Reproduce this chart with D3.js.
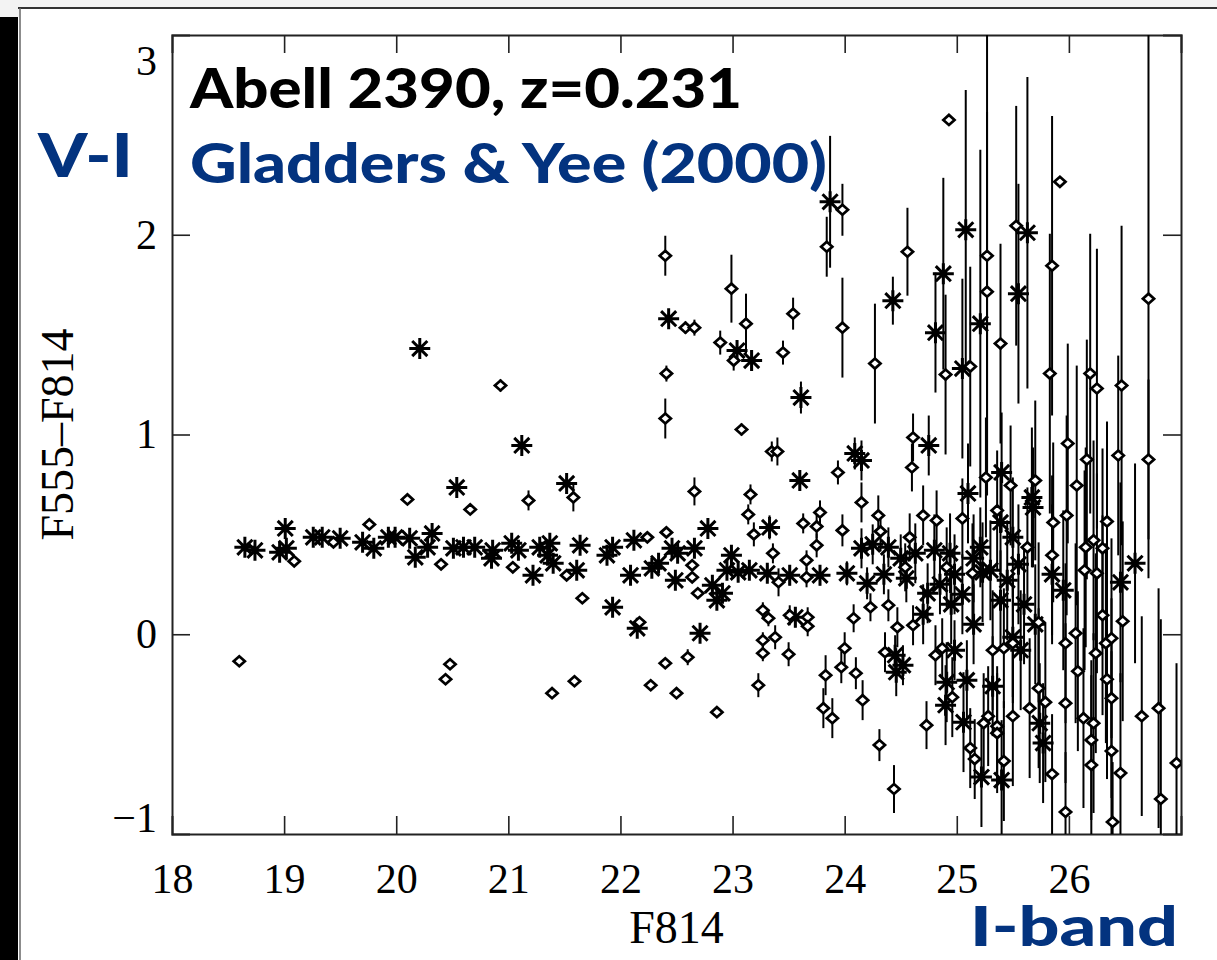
<!DOCTYPE html>
<html><head><meta charset="utf-8">
<script src="https://cdn.jsdelivr.net/npm/d3@7"></script>
<style>body{margin:0;background:#fff}</style>
</head><body><svg id="c" width="1217" height="960"></svg>
<script>
// ---------- data ----------
const xTickValues = [18,19,20,21,22,23,24,25,26];
const xTickLabels = ["18","19","20","21","22","23","24","25","26"];
const yTickValues = [-1,0,1,2,3];
const yTickLabels = ["\u22121","0","1","2","3"];
const xTitle = "F814";
const yTitle = "F555\u2013F814";

// asterisk points: [F814, F555-F814, error]
const asteriskPoints = [
[18.65,0.435,0],[18.74,0.42,0],[19.01,0.53,0],[18.96,0.41,0],[19.02,0.43,0],[19.26,0.485,0],[19.34,0.485,0],
[19.5,0.48,0],[19.70,0.46,0],[19.80,0.43,0],[19.93,0.485,0],[19.99,0.485,0],[20.12,0.48,0],[20.17,0.385,0],
[20.32,0.505,0],[20.28,0.435,0],[20.51,0.43,0],[20.6,0.435,0],[20.7,0.435,0],[20.86,0.42,0],[20.85,0.38,0],
[21.03,0.455,0],[21.09,0.42,0],[21.22,0.295,0],[21.28,0.435,0],[21.37,0.455,0],[21.40,0.355,0],[21.35,0.395,0],
[20.21,1.43,0],[21.12,0.945,0],[20.54,0.735,0],[21.52,0.755,0.03],
[22.43,1.58,0.03],[23.04,1.42,0.05],[23.17,1.37,0.05],[23.61,1.185,0.08],[23.6,0.77,0.05],[23.33,0.535,0.06],
[22.78,0.53,0.03],[21.64,0.445,0],[21.93,0.435,0],[22.12,0.47,0],[21.88,0.395,0],[21.61,0.32,0],[22.09,0.295,0],
[22.28,0.33,0],[22.34,0.355,0],[22.46,0.43,0],[22.51,0.405,0],[22.66,0.43,0],[22.49,0.27,0],[22.82,0.245,0.03],
[22.91,0.205,0],[22.99,0.395,0.03],[22.95,0.32,0],[23.05,0.31,0],[23.15,0.32,0],[23.31,0.305,0.04],[23.51,0.295,0.05],
[21.93,0.135,0],[22.15,0.03,0],[22.71,0.005,0],[23.56,0.085,0.05],[22.86,0.17,0],
[23.87,2.165,0.33],[25.08,2.025,0.7],[24.88,1.805,0.48],[25.63,2.01,0.78],[25.55,1.705,0.55],[24.43,1.67,0.12],
[24.81,1.51,0.3],[25.21,1.555,0.87],[25.05,1.33,0.45],
[24.09,0.905,0.08],[24.15,0.87,0.1],[24.75,0.945,0.15],[25.10,0.705,0.25],[25.40,0.81,0.3],[25.67,0.685,0.35],
[24.15,0.43,0.1],[24.39,0.435,0.1],[23.78,0.295,0.05],[24.02,0.305,0.06],[24.20,0.255,0.08],[24.63,0.405,0.15],
[24.74,0.205,0.15],[24.94,0.405,0.2],[25.21,0.435,0.2],[25.39,0.56,0.25],[25.50,0.485,0.3],[25.68,0.635,0.3],
[25.95,0.22,0.4],[25.45,0.27,0.3],[25.23,0.31,0.25],[26.59,0.355,0.5],[26.46,0.26,0.5],
[24.45,-0.105,0.1],[24.52,-0.155,0.1],[24.46,-0.19,0.12],[24.91,-0.24,0.2],[24.90,-0.355,0.2],[24.98,-0.08,0.15],
[25.06,-0.44,0.25],[25.09,-0.23,0.2],[25.22,-0.715,0.25],[25.32,-0.26,0.25],[25.40,-0.73,0.3],[25.57,-0.08,0.3],
[25.74,-0.445,0.3],[25.77,-0.545,0.3],
[24.35,0.3,0.1],[24.55,0.28,0.12],[24.85,0.25,0.15],[24.98,0.3,0.2],[25.39,0.17,0.25],[25.6,0.15,0.3],
[25.85,0.3,0.35],[25.7,0.05,0.3],[25.5,-0.015,0.3],[24.7,0.1,0.15],[25.15,0.05,0.2],[25.05,0.2,0.2],
[24.25,0.45,0.1],[24.5,0.38,0.12],[24.8,0.42,0.18],[25.15,0.38,0.22],[25.3,0.32,0.25],[25.55,0.35,0.3],[24.95,0.15,0.2]
];

// diamond points: [F814, F555-F814, error]
const diamondPoints = [
[18.6,-0.135,0],[19.09,0.365,0.01],[19.44,0.46,0],[19.76,0.55,0],[20.10,0.675,0.01],[20.66,0.625,0],[20.40,0.35,0],
[21.04,0.335,0],[21.18,0.67,0.05],[21.52,0.295,0],[20.48,-0.15,0],[20.44,-0.225,0],[20.93,1.245,0.03],[21.58,0.685,0.07],
[22.58,1.535,0.03],[22.66,1.535,0.04],[22.41,1.305,0.04],[22.40,1.08,0.1],[22.89,1.46,0.06],[23.01,1.37,0.05],
[23.12,1.555,0.15],[23.08,1.025,0.03],[23.45,1.41,0.06],[23.54,1.605,0.08],[23.35,0.915,0.05],[23.40,0.915,0.07],
[22.66,0.715,0.07],[23.16,0.70,0.05],[23.14,0.60,0.05],[23.19,0.50,0.06],[22.41,0.51,0],[22.24,0.485,0],
[22.64,0.345,0],[22.64,0.285,0],[22.69,0.205,0],[23.36,0.405,0.05],[23.41,0.26,0.07],[21.66,0.18,0],[22.17,0.06,0],
[22.86,-0.39,0],[22.50,-0.295,0],[22.27,-0.255,0],[22.40,-0.145,0],[22.60,-0.115,0.04],[21.59,-0.235,0],[21.39,-0.295,0],
[23.27,0.12,0.04],[23.32,0.08,0.04],[23.38,-0.015,0.06],[23.27,-0.03,0.04],[23.27,-0.095,0.04],[23.50,-0.1,0.06],
[23.23,-0.255,0.06],[23.51,0.095,0.05],[22.40,1.895,0.1],[22.99,1.73,0.17],
[23.67,0.085,0.05],[23.67,0.04,0.05],[24.08,0.08,0.07],[24.23,0.135,0.07],[24.39,0.145,0.08],[24.0,-0.07,0.08],
[23.97,-0.165,0.08],[23.83,-0.205,0.1],[24.10,-0.195,0.08],[23.81,-0.37,0.1],[23.89,-0.42,0.1],[24.16,-0.33,0.1],
[24.31,-0.555,0.08],[24.44,-0.775,0.12],[24.36,-0.09,0.1],[24.47,0.035,0.1],[24.61,0.045,0.1],[24.73,-0.455,0.12],
[24.81,-0.105,0.15],[24.87,-0.07,0.15],[24.96,-0.315,0.2],[25.12,-0.57,0.2],[25.16,-0.625,0.2],[25.24,-0.445,0.25],
[25.28,-0.41,0.25],[25.36,-0.46,0.3],[25.36,-0.495,0.3],[25.42,-0.635,0.3],[25.32,-0.08,0.3],[25.42,-0.07,0.3],
[25.50,-0.41,0.35],[25.50,-0.045,0.3],[25.65,-0.37,0.35],[25.79,-0.34,0.4],[25.73,-0.27,0.4],[25.85,-0.70,0.3],
[25.97,-0.345,0.4],[25.97,-0.89,0.3],[25.97,-0.045,0.4],[26.06,0.005,0.45],[26.08,-0.185,0.4],[26.13,-0.42,0.45],
[26.20,-0.655,0.45],[26.22,-0.445,0.45],[26.20,-0.53,0.4],[26.24,-0.095,0.5],[26.33,-0.045,0.5],[26.34,-0.225,0.5],
[26.38,-0.32,0.5],[26.38,-0.585,0.5],[26.39,-0.94,0.3],[26.46,-0.695,0.5],[26.48,0.065,0.5],[26.65,-0.41,0.5],
[26.80,-0.37,0.6],[26.82,-0.825,0.9],[26.96,-0.645,0.5],[26.30,0.095,0.5],[26.38,-0.02,0.5],[25.73,0.06,0.4],
[23.98,2.125,0.13],[23.84,1.94,0.15],[24.93,2.575,0],[25.27,1.895,1.2],[25.27,1.715,0.9],[24.56,1.915,0.22],
[25.53,2.045,0.6],[25.92,2.265,0],[25.85,1.845,0.75],[26.71,1.68,1.4],[23.98,1.535,0.25],[24.27,1.355,0.3],
[24.9,1.30,0.4],[25.39,1.455,0.5],[25.12,1.34,0.5],[25.83,1.305,0.7],[26.19,1.305,0.7],[26.25,1.23,0.7],
[26.47,1.245,0.8],[26.71,0.875,0.4],[25.99,0.955,0.5],[26.16,0.875,0.6],[26.44,0.895,0.5],[26.07,0.745,0.6],
[25.98,0.595,0.5],[26.34,0.565,0.5],[26.15,0.435,0.5],[26.14,0.32,0.5],[26.22,0.47,0.5],[26.25,0.305,0.5],
[26.30,0.43,0.5],[23.94,0.81,0.06],[24.61,0.985,0.12],[24.60,0.835,0.12],[24.15,0.66,0.1],[25.26,0.785,0.3],
[25.48,0.745,0.3],[25.70,0.77,0.4],[23.78,0.61,0.06],[23.75,0.54,0.06],[23.75,0.445,0.06],[23.63,0.555,0.05],
[24.30,0.595,0.1],[24.32,0.515,0.1],[23.98,0.52,0.08],[23.66,0.37,0.05],[23.66,0.285,0.05],[24.58,0.485,0.12],
[24.70,0.595,0.15],[24.82,0.57,0.15],[24.54,0.335,0.12],[25.05,0.58,0.2],[24.91,0.335,0.2],[25.14,0.305,0.25],
[25.36,0.62,0.3],[25.63,0.435,0.3],[25.86,0.56,0.4],[25.85,0.395,0.4]
];

// ---------- layout ----------
const W = 1217, H = 960;
const L = 172, R = 1181, T = 35, B = 834;
const svg = d3.select("#c");

// page frame decoration
svg.append("rect").attr("x",0).attr("y",0).attr("width",W).attr("height",8).attr("fill","#f3f3f3");
svg.append("rect").attr("x",0).attr("y",0).attr("width",19).attr("height",17).attr("fill","#f3f3f3");
svg.append("line").attr("x1",18).attr("x2",W).attr("y1",8).attr("y2",8).attr("stroke","#333").attr("stroke-width",2);
svg.append("line").attr("x1",20).attr("x2",20).attr("y1",8).attr("y2",H).attr("stroke","#666").attr("stroke-width",1.5);
svg.append("rect").attr("x",0).attr("y",17).attr("width",18).attr("height",H-17).attr("fill","#000");

const x = d3.scaleLinear().domain([18,27]).range([L,R]);
const y = d3.scaleLinear().domain([-1,3]).range([B,T]);

svg.append("defs").append("clipPath").attr("id","clip")
  .append("rect").attr("x",L).attr("y",T).attr("width",R-L).attr("height",B-T);

// axes
const serif = "'Liberation Serif','Times New Roman',serif";
const tickLen = 18;
const gB = svg.append("g").attr("transform",`translate(0,${B})`)
  .call(d3.axisBottom(x).tickValues(xTickValues).tickFormat((d,i)=>xTickLabels[i]).tickSize(-tickLen).tickPadding(29));
const gT = svg.append("g").attr("transform",`translate(0,${T})`)
  .call(d3.axisTop(x).tickValues(xTickValues.slice(1)).tickFormat("").tickSize(-tickLen));
const gL = svg.append("g").attr("transform",`translate(${L},0)`)
  .call(d3.axisLeft(y).tickValues(yTickValues).tickFormat((d,i)=>yTickLabels[i]).tickSize(-tickLen).tickPadding(15));
const gR = svg.append("g").attr("transform",`translate(${R},0)`)
  .call(d3.axisRight(y).tickValues(yTickValues.slice(1,4)).tickFormat("").tickSize(-tickLen));
[gB,gT,gL,gR].forEach(g=>{
  g.select(".domain").attr("stroke","#222").attr("stroke-width",2);
  g.selectAll(".tick line").attr("stroke","#222").attr("stroke-width",1.6);
  g.selectAll(".tick text").attr("font-family",serif).attr("font-size",42).attr("fill","#000");
});
gL.selectAll(".tick text").attr("dy",(d)=> d===3 ? "0.95em" : d===-1 ? "-0.05em" : "0.32em");
gL.selectAll(".tick line").filter(d=>d===3||d===-1).remove();
gB.selectAll(".tick line").filter(d=>d===18).remove();

// axis titles
svg.append("text").attr("x",(L+R)/2).attr("y",943).attr("text-anchor","middle")
  .attr("font-family",serif).attr("font-size",46).text(xTitle);
svg.append("text").attr("transform",`translate(73,${(T+B)/2}) rotate(-90)`).attr("text-anchor","middle")
  .attr("font-family",serif).attr("font-size",46).text(yTitle);

// data layer
const plot = svg.append("g").attr("clip-path","url(#clip)");

function errBars(data){
  plot.append("g").selectAll("line").data(data.filter(d=>d[2]>0)).join("line")
    .attr("x1",d=>x(d[0])).attr("x2",d=>x(d[0]))
    .attr("y1",d=>y(d[1]+d[2])).attr("y2",d=>y(d[1]-d[2]))
    .attr("stroke","#000").attr("stroke-width",2);
}
errBars(diamondPoints);
errBars(asteriskPoints);

const a = 10.5, dg = a*0.72;
const starPath = `M${-a},0L${a},0M0,${-a}L0,${a}M${-dg},${-dg}L${dg},${dg}M${-dg},${dg}L${dg},${-dg}`;
plot.append("g").selectAll("path").data(asteriskPoints).join("path")
  .attr("transform",d=>`translate(${x(d[0])},${y(d[1])})`)
  .attr("d",starPath).attr("stroke","#000").attr("stroke-width",3).attr("fill","none");

const dw = 5.6, dh = 5;
plot.append("g").selectAll("path").data(diamondPoints).join("path")
  .attr("transform",d=>`translate(${x(d[0])},${y(d[1])})`)
  .attr("d",`M${-dw},0L0,${-dh}L${dw},0L0,${dh}Z`)
  .attr("stroke","#000").attr("stroke-width",2.7).attr("fill","#fff");

// annotations
const sans = "Lato,'Open Sans',sans-serif";
const blue = "#03337f";
function label(t,x0,yb,len,size,col){
  svg.append("text").attr("x",x0).attr("y",yb).attr("font-family",sans).attr("font-weight",900)
    .attr("font-size",size).attr("fill",col).attr("textLength",len).attr("lengthAdjust","spacingAndGlyphs").text(t);
}
label("Abell 2390, z=0.231",190,108,552,56,"#000");
label("Gladders & Yee (2000)",190,183,637,56,blue);
label("V-I",38,177,95,60,blue);
label("I-band",970,946,208,56,blue);
</script></body></html>
